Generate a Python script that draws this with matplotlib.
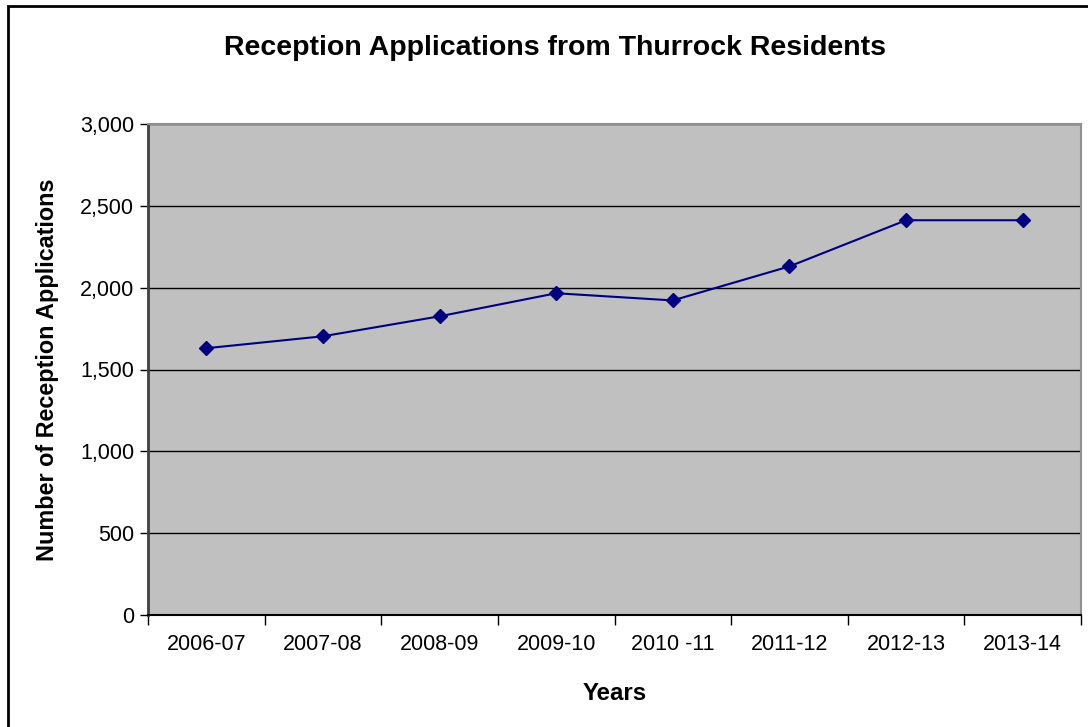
import matplotlib
matplotlib.use("Agg")
import matplotlib.pyplot as plt
from matplotlib.ticker import FuncFormatter, FixedLocator, NullFormatter
from matplotlib.patches import Rectangle

years = ["2006-07", "2007-08", "2008-09", "2009-10", "2010 -11", "2011-12", "2012-13", "2013-14"]
applications = [1630, 1703, 1825, 1966, 1922, 2130, 2412, 2412]

plt.rcParams['font.family'] = ['Liberation Sans', 'DejaVu Sans']

W, H = 1088, 727
fig = plt.figure(figsize=(W / 100, H / 100), dpi=100)
ax = fig.add_axes([148 / W, 1 - 615 / H, (1081 - 148) / W, (615 - 124) / H])
ax.set_facecolor('#C0C0C0')

x = list(range(len(years)))
ax.plot(x, applications, color='#000080', lw=1.5, marker='D', ms=7,
        markerfacecolor='#000080', markeredgecolor='#000080', zorder=3)

ax.set_xlim(-0.5, len(years) - 0.5)
ax.set_ylim(0, 3000)
ax.set_yticks([0, 500, 1000, 1500, 2000, 2500, 3000])
ax.yaxis.set_major_formatter(FuncFormatter(lambda v, p: f"{int(v):,}"))
ax.yaxis.grid(True, color='black', lw=1)
ax.set_axisbelow(True)

ax.set_xticks(x)
ax.set_xticklabels(years)
ax.tick_params(axis='x', which='major', length=0, pad=14, labelsize=15.5)
ax.xaxis.set_minor_locator(FixedLocator([i - 0.5 for i in range(len(years) + 1)]))
ax.xaxis.set_minor_formatter(NullFormatter())
ax.tick_params(axis='x', which='minor', length=7, width=1, color='black', direction='out')
ax.tick_params(axis='y', length=6, width=1, color='black', direction='out', pad=4, labelsize=15.5)

for s in ['top', 'right']:
    ax.spines[s].set_color('#909090')
    ax.spines[s].set_linewidth(1.5)
ax.spines['left'].set_color('#404040')
ax.spines['left'].set_linewidth(2)
ax.spines['bottom'].set_color('black')
ax.spines['bottom'].set_linewidth(1.5)

ax.set_xlabel('Years', fontsize=17.3, fontweight='bold', labelpad=19)
ax.set_ylabel('Number of Reception Applications', fontsize=16.8, fontweight='bold', labelpad=15)

fig.text(555 / W, 1 - 48 / H, 'Reception Applications from Thurrock Residents',
         fontsize=20.5, fontweight='bold', ha='center', va='center')

fig.patches.append(Rectangle((8 / W, -0.1), 1.2, 1 - 6 / H + 0.1, transform=fig.transFigure,
                             fill=False, edgecolor='black', lw=2))

fig.savefig('out.png', dpi=100)
